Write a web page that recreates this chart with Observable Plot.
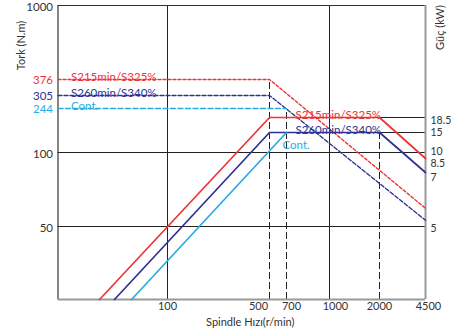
<!DOCTYPE html>
<html><head><meta charset="utf-8">
<script src="https://cdn.jsdelivr.net/npm/d3@7"></script>
<script src="https://cdn.jsdelivr.net/npm/@observablehq/plot@0.6"></script>
<style>body{margin:0;background:#fff} svg{display:block}</style>
</head><body><div id="chart"></div>
<script>
// ---- data ----
const speedTicks = [100, 500, 700, 1000, 2000, 4500];        // r/min
const torqueTicks = [50, 100, 1000];                          // N.m
const torqueLevels = [376, 305, 244];                         // N.m (coloured labels)
const powerTicks = [18.5, 15, 10, 8.5, 7, 5];                 // kW
const seriesNames = ["S215min/S325%", "S260min/S340%", "Cont."];
const seriesColors = ["#ee3338", "#2e3192", "#29abe2"];

// torque curves [speed, N.m]
const torqueS2 = [[18, 376], [500, 376], [4500, 56]];
const torqueS6 = [[18, 305], [500, 305], [4500, 52]];
const torqueCont = [[18, 244], [700, 244]];
// power curves [speed, kW]
const powerS2 = [[34.5, 2.5], [500, 18.5], [2000, 18.5], [4500, 8.5]];
const powerS6 = [[43.6, 2.5], [500, 15], [2000, 15], [4500, 7]];
const powerCont = [[57, 2.5], [700, 15]];
// dashed guide corners [speed, N.m]
const guides = [[500, 376], [700, 244], [2000, 150]];

// schematic (piecewise log) axis anchors of the original drawing
const xAnchors = [18, 100, 500, 700, 1000, 2000, 4500];
const xPixels = [57.5, 167, 269, 286, 329, 379, 425];
const yAnchors = [25, 50, 70, 85, 100, 150, 185, 244, 305, 376, 1000];
const yPixels = [299, 226, 172, 158, 152, 132, 117, 108, 95, 79, 5];
// label nudges (layout)
const speedLabelDx = [0, -11, 5, 6, 0, 3];
const powerLabelDy = [3.5, 0.5, -0.5, 5.5, 5, 2];

const kw = p => p * 10; // power axis shares the torque scale (10 kW ↔ 100 N.m)
const torqueSeries = [torqueS2, torqueS6, torqueCont];
const powerSeries = [powerS2, powerS6, powerCont];
const dashes = ["3,2", "4,2", "5,2.5"];
const font = "Lato, 'DejaVu Sans', sans-serif";
const ink = "#333";

const marks = [
  // grid
  Plot.ruleY([100, 50], {stroke: "#222", strokeWidth: 1}),
  Plot.ruleX([100, 1000], {stroke: "#222", strokeWidth: 1}),
  Plot.ruleY([kw(18.5), kw(15)], {x1: 2000, x2: 4500, stroke: "#222", strokeWidth: 1}),
  Plot.ruleX(guides, {x: d => d[0], y1: 25, y2: d => d[1], stroke: "#222", strokeWidth: 1, strokeDasharray: "7,3"}),
  // frame
  Plot.ruleY([1000], {stroke: "#333", strokeWidth: 1.2}),
  Plot.ruleX([18], {stroke: "#333", strokeWidth: 1.2}),
  Plot.ruleY([25], {stroke: "#999", strokeWidth: 2}),
  Plot.ruleX([4500], {stroke: "#999", strokeWidth: 2}),
];

torqueSeries.forEach((s, i) => {
  marks.push(Plot.line(s, {x: d => d[0], y: d => d[1], stroke: seriesColors[i], strokeWidth: 1.4, strokeDasharray: dashes[i]}));
});
powerSeries.forEach((s, i) => {
  marks.push(Plot.line(s, {x: d => d[0], y: d => kw(d[1]), stroke: seriesColors[i], strokeWidth: 1.7}));
});

// series labels near the torque lines (left) and power lines (middle)
const midLabel = [[700, kw(18.5), "bottom", 9, 1], [700, kw(15), "bottom", 9, 1], [700, kw(15), "top", -4, 8]];
seriesNames.forEach((name, i) => {
  marks.push(Plot.text([name], {x: 18, y: torqueLevels[i], text: d => d, textAnchor: "start", lineAnchor: "bottom", dx: 13, dy: 1, fill: seriesColors[i], fontSize: 11.5, fontFamily: font}));
  const m = midLabel[i];
  marks.push(Plot.text([name], {x: m[0], y: m[1], text: d => d, textAnchor: "start", lineAnchor: m[2], dx: m[3], dy: m[4], fill: seriesColors[i], fontSize: 11.5, fontFamily: font}));
  marks.push(Plot.text([torqueLevels[i]], {y: d => d, frameAnchor: "left", textAnchor: "end", lineAnchor: "middle", dx: -5, dy: 1, text: d => String(d), fill: seriesColors[i], fontSize: 11.5, fontFamily: font}));
});

// tick labels
speedTicks.forEach((t, i) => {
  marks.push(Plot.text([t], {x: d => d, frameAnchor: "bottom", textAnchor: "middle", lineAnchor: "top", dx: speedLabelDx[i], dy: 3, text: d => String(d), fontSize: 11, fill: ink, fontFamily: font}));
});
powerTicks.forEach((t, i) => {
  marks.push(Plot.text([t], {y: d => kw(d), frameAnchor: "right", textAnchor: "start", lineAnchor: "middle", dx: 5, dy: powerLabelDy[i], text: d => String(d), fontSize: 10.5, fill: ink, fontFamily: font}));
});

marks.push(
  Plot.text(torqueTicks, {y: d => d, frameAnchor: "left", textAnchor: "end", lineAnchor: "middle", dx: -5, dy: 1.5, text: d => String(d), fontSize: 11.5, fill: ink, fontFamily: font}),
  // axis titles
  Plot.text(["Tork (N.m)"], {frameAnchor: "top-left", textAnchor: "middle", lineAnchor: "middle", dx: -36.5, dy: 40, rotate: -90, text: d => d, fontSize: 11, fill: ink, fontFamily: font}),
  Plot.text(["Güç (kW)"], {frameAnchor: "top-right", textAnchor: "middle", lineAnchor: "middle", dx: 15, dy: 22, rotate: -90, text: d => d, fontSize: 11, fill: ink, fontFamily: font}),
  Plot.text(["Spindle Hızı(r/min)"], {frameAnchor: "bottom", textAnchor: "middle", lineAnchor: "middle", dx: 8.5, dy: 23, text: d => d, fontSize: 11, fill: ink, fontFamily: font})
);

const chart = Plot.plot({
  width: 461,
  height: 334,
  marginLeft: 57.5,
  marginRight: 36,
  marginTop: 5,
  marginBottom: 35,
  style: {background: "#fff", fontFamily: font},
  x: {type: "log", domain: xAnchors, range: xPixels, label: null, axis: null},
  y: {type: "log", domain: yAnchors, range: yPixels, label: null, axis: null},
  marks
});
document.getElementById("chart").appendChild(chart);
</script>
</body></html>
